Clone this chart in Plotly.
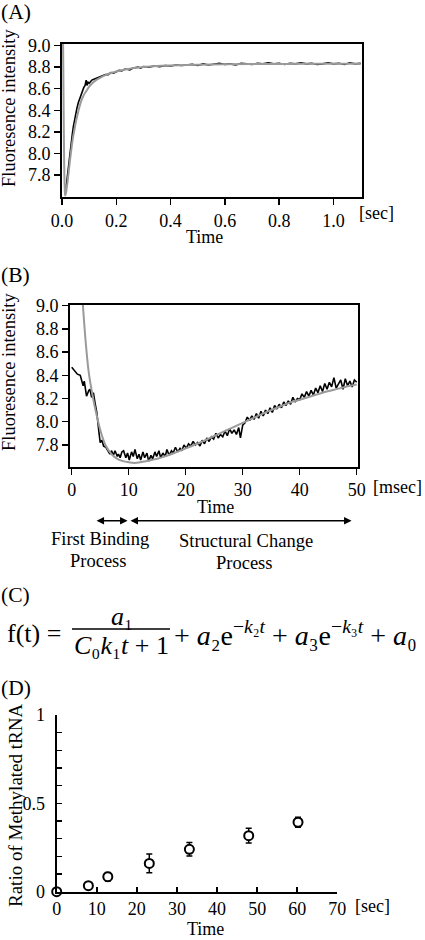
import plotly.graph_objects as go

W, H = 425, 940
FONT = "Liberation Serif"

# ---------------- Data ----------------
# Panel A: measured fluorescence (black) and fit (gray), time in sec
a_t = [0.012, 0.016, 0.02, 0.024, 0.027, 0.03, 0.034, 0.038, 0.042, 0.045, 0.05, 0.055,
       0.06, 0.065, 0.07, 0.075, 0.08, 0.085, 0.089, 0.092, 0.096, 0.10, 0.105, 0.11,
       0.12, 0.13, 0.14, 0.15, 0.16, 0.17, 0.18, 0.19, 0.20, 0.21, 0.22, 0.23, 0.24,
       0.25, 0.26, 0.27, 0.28, 0.29, 0.30, 0.32, 0.34, 0.36, 0.38, 0.40, 0.42, 0.44,
       0.46, 0.48, 0.50, 0.52, 0.54, 0.56, 0.58, 0.60, 0.62, 0.64, 0.66, 0.68, 0.70,
       0.72, 0.74, 0.76, 0.78, 0.80, 0.82, 0.84, 0.86, 0.88, 0.90, 0.92, 0.94, 0.96,
       0.98, 1.00, 1.02, 1.04, 1.06, 1.08, 1.10]
a_val = [7.62, 7.71, 7.80, 7.90, 7.98, 8.03, 8.11, 8.18, 8.25, 8.30, 8.36, 8.42,
         8.47, 8.51, 8.54, 8.58, 8.61, 8.63, 8.68, 8.63, 8.66, 8.65, 8.67, 8.68,
         8.69, 8.70, 8.71, 8.72, 8.73, 8.73, 8.75, 8.745, 8.76, 8.77, 8.765, 8.78, 8.78,
         8.775, 8.79, 8.795, 8.80, 8.79, 8.805, 8.80, 8.81, 8.805, 8.815, 8.81, 8.82, 8.815,
         8.82, 8.825, 8.815, 8.83, 8.82, 8.83, 8.835, 8.825, 8.83, 8.82, 8.835, 8.83, 8.825,
         8.835, 8.83, 8.84, 8.83, 8.835, 8.825, 8.835, 8.83, 8.84, 8.83, 8.835, 8.825, 8.83,
         8.84, 8.83, 8.835, 8.825, 8.84, 8.83, 8.835]
a_fit_t = [0.0, 0.004, 0.006, 0.008, 0.010, 0.012, 0.015, 0.02, 0.025, 0.03, 0.035, 0.04,
           0.045, 0.05, 0.06, 0.07, 0.08, 0.09, 0.10, 0.12, 0.14, 0.16, 0.18, 0.20, 0.25,
           0.30, 0.35, 0.40, 0.50, 0.60, 0.70, 0.80, 0.90, 1.00, 1.10]
a_fit_val = [9.6, 9.0, 8.4, 7.9, 7.68, 7.61, 7.64, 7.73, 7.84, 7.95, 8.05, 8.14,
             8.21, 8.28, 8.39, 8.48, 8.54, 8.58, 8.62, 8.67, 8.70, 8.725, 8.745, 8.76, 8.785,
             8.80, 8.81, 8.815, 8.822, 8.826, 8.828, 8.829, 8.83, 8.83, 8.83]

# Panel B: time in msec
b_t = [0.0, 0.5, 1.0, 1.5, 2.0, 2.2, 2.6, 3.0, 3.2, 3.5, 3.8, 4.1, 4.4, 4.8, 5.0, 5.3,
       5.6, 6.0, 6.4, 6.7, 7.0, 7.3, 7.6, 8.0, 8.2, 8.5, 8.8, 9.1, 9.5, 9.8, 10.1, 10.5,
       10.8, 11.1, 11.5, 11.8, 12.1, 12.5, 12.8, 13.2, 13.5, 13.9, 14.2, 14.6, 14.9, 15.3,
       15.6, 16.0, 16.4, 16.7, 17.1, 17.5, 17.8, 18.2, 18.6, 19.0, 19.3, 19.7, 20.1, 20.5,
       20.9, 21.3, 21.7, 22.1, 22.5, 22.9, 23.3, 23.7, 24.1, 24.5, 24.9, 25.3, 25.7, 26.1,
       26.5, 26.9, 27.3, 27.7, 28.1, 28.5, 28.9, 29.3, 29.6, 30.0, 30.4, 30.8, 31.2, 31.6,
       32.0, 32.4, 32.8, 33.2, 33.6, 34.0, 34.4, 34.8, 35.2, 35.6, 36.0, 36.4, 36.8, 37.2,
       37.6, 38.0, 38.4, 38.8, 39.2, 39.6, 40.0, 40.4, 40.8, 41.2, 41.6, 42.0, 42.4, 42.8,
       43.2, 43.6, 44.0, 44.4, 44.8, 45.2, 45.6, 46.0, 46.4, 46.8, 47.2, 47.6, 48.0, 48.4,
       48.8, 49.2, 49.6, 50.0]
b_val = [8.47, 8.44, 8.41, 8.40, 8.31, 8.35, 8.22, 8.27, 8.28, 8.21, 8.25, 8.16, 8.08, 7.90, 7.82, 7.84,
         7.79, 7.78, 7.74, 7.72, 7.75, 7.71, 7.75, 7.70, 7.72, 7.69, 7.74, 7.75, 7.69, 7.73, 7.67, 7.74,
         7.70, 7.76, 7.68, 7.72, 7.67, 7.74, 7.69, 7.73, 7.66, 7.71, 7.68, 7.74, 7.70, 7.75,
         7.69, 7.73, 7.70, 7.76, 7.71, 7.75, 7.73, 7.78, 7.74, 7.77, 7.75, 7.80, 7.77, 7.81,
         7.79, 7.83, 7.80, 7.82, 7.79, 7.84, 7.81, 7.86, 7.83, 7.87, 7.85, 7.90, 7.86, 7.89,
         7.87, 7.92, 7.88, 7.94, 7.90, 7.93, 7.89, 7.95, 7.86, 7.97, 7.99, 8.04, 8.01, 8.05,
         8.02, 8.07, 8.03, 8.09, 8.05, 8.10, 8.07, 8.12, 8.08, 8.14, 8.11, 8.15, 8.12, 8.17,
         8.14, 8.18, 8.15, 8.21, 8.17, 8.20, 8.19, 8.24, 8.21, 8.26, 8.22, 8.27, 8.23, 8.29,
         8.25, 8.31, 8.26, 8.33, 8.28, 8.34, 8.30, 8.38, 8.29, 8.33, 8.36, 8.28, 8.37, 8.31,
         8.35, 8.30, 8.36, 8.34]
b_fit_t = [1.5, 2.0, 2.5, 3.0, 3.5, 4.0, 4.5, 5.0, 5.5, 6.0, 7.0, 8.0, 9.0, 10.0, 11.0, 12.0,
           13.0, 14.0, 15.0, 16.0, 18.0, 20.0, 22.0, 24.0, 26.0, 28.0, 30.0, 32.0, 34.0, 36.0,
           38.0, 40.0, 42.0, 44.0, 46.0, 48.0, 50.0]
b_fit_val = [9.35, 8.98, 8.66, 8.42, 8.27, 8.14, 8.03, 7.93, 7.85, 7.79, 7.72, 7.68, 7.66, 7.65, 7.645, 7.65,
             7.66, 7.67, 7.68, 7.695, 7.73, 7.77, 7.81, 7.855, 7.90, 7.945, 7.99, 8.035, 8.08, 8.12,
             8.16, 8.19, 8.22, 8.25, 8.275, 8.30, 8.32]

# Panel D: ratio of methylated tRNA vs time (sec)
d_t = [0, 7.9, 12.75, 23.1, 33.1, 47.9, 60.2]
d_val = [0, 0.034, 0.085, 0.16, 0.24, 0.317, 0.393]
d_err = [0, 0.012, 0.024, 0.053, 0.038, 0.042, 0.028]

a_xticks = [0.0, 0.2, 0.4, 0.6, 0.8, 1.0]
ab_yticks = [7.8, 8.0, 8.2, 8.4, 8.6, 8.8, 9.0]
b_xticks = [0, 10, 20, 30, 40, 50]
d_xticks = [0, 10, 20, 30, 40, 50, 60, 70]
d_yticks = [0, 0.1, 0.2, 0.3, 0.4, 0.5, 0.6, 0.7, 0.8, 0.9, 1.0]
d_yticktext = ["0", "", "", "", "", "0.5", "", "", "", "", "1"]


def px(x):
    return x / W


def py(y):
    return 1 - y / H


fig = go.Figure()
BLACK = "#000000"
GRAY = "#9a9a9a"

fig.add_trace(go.Scatter(x=a_t, y=a_val, mode="lines", line=dict(color=BLACK, width=1.6),
                         xaxis="x", yaxis="y", showlegend=False))
fig.add_trace(go.Scatter(x=a_fit_t, y=a_fit_val, mode="lines", line=dict(color=GRAY, width=2, shape="spline"),
                         xaxis="x", yaxis="y", showlegend=False))
fig.add_trace(go.Scatter(x=b_t, y=b_val, mode="lines", line=dict(color=BLACK, width=1.6),
                         xaxis="x2", yaxis="y2", showlegend=False))
fig.add_trace(go.Scatter(x=b_fit_t, y=b_fit_val, mode="lines", line=dict(color=GRAY, width=2, shape="spline"),
                         xaxis="x2", yaxis="y2", showlegend=False))
fig.add_trace(go.Scatter(x=d_t, y=d_val, mode="markers",
                         marker=dict(symbol="circle", size=9, color="white", line=dict(color=BLACK, width=2)),
                         error_y=dict(type="data", array=d_err, color=BLACK, thickness=1.5, width=3),
                         cliponaxis=False, xaxis="x3", yaxis="y3", showlegend=False))

tickfont = dict(family=FONT, size=18, color=BLACK)
boxaxis = dict(showline=True, linewidth=2, linecolor=BLACK, mirror=True, ticks="outside",
               ticklen=6, tickwidth=1.5, tickcolor=BLACK, showgrid=False, zeroline=False,
               tickfont=tickfont, automargin=False)

fig.update_layout(
    template="none",
    width=W, height=H, autosize=False,
    margin=dict(l=0, r=0, t=0, b=0, pad=0),
    paper_bgcolor="white", plot_bgcolor="white",
    font=dict(family=FONT, color=BLACK),
    xaxis=dict(boxaxis, domain=[px(62), px(362)], range=[0, 1.105], anchor="y",
               tickvals=a_xticks, ticktext=["%.1f" % v for v in a_xticks]),
    yaxis=dict(boxaxis, domain=[py(197), py(44)], range=[7.597, 9.014], anchor="x",
               tickvals=ab_yticks, ticktext=["%.1f" % v for v in ab_yticks]),
    xaxis2=dict(boxaxis, domain=[px(70), px(358.3)], range=[-0.3, 50.28], anchor="y2",
                tickvals=b_xticks, ticktext=[str(v) for v in b_xticks]),
    yaxis2=dict(boxaxis, domain=[py(466.5), py(305)], range=[7.614, 9.006], anchor="x2",
                tickvals=ab_yticks, ticktext=["%.1f" % v for v in ab_yticks]),
    xaxis3=dict(domain=[px(56.7), px(337.3)], range=[0, 70], anchor="y3", showline=True,
                linewidth=2, linecolor=BLACK, ticks="inside", ticklen=5, tickwidth=1.5,
                tickcolor=BLACK, showgrid=False, zeroline=False, tickfont=tickfont,
                tickvals=d_xticks, ticktext=[str(v) for v in d_xticks], automargin=False),
    yaxis3=dict(domain=[py(891.7), py(715)], range=[0, 1], anchor="x3", showline=True,
                linewidth=2, linecolor=BLACK, ticks="inside", ticklen=5, tickwidth=1.5,
                tickcolor=BLACK, showgrid=False, zeroline=False, tickfont=tickfont,
                tickvals=d_yticks, ticktext=d_yticktext, ticklabelstandoff=6, automargin=False),
)

ann = []


def text(x, y, s, size=18, xanchor="center", angle=0, yanchor="middle"):
    ann.append(dict(x=px(x), y=py(y), xref="paper", yref="paper", text=s, showarrow=False,
                    xanchor=xanchor, yanchor=yanchor, textangle=angle, borderpad=0,
                    font=dict(family=FONT, size=size, color=BLACK)))


# panel labels
text(0, 12, "(A)", 21.5, "left")
text(0, 275, "(B)", 21.5, "left")
text(0, 595, "(C)", 21.5, "left")
text(0, 688, "(D)", 21.5, "left")

# axis titles
text(9, 108, "Fluoresence intensity", 18.5, angle=-90)
text(204, 237, "Time", 18)
text(376, 213, "[sec]", 18)
text(9, 372, "Fluoresence intensity", 18.5, angle=-90)
text(215, 507, "Time", 18)
text(423, 487, "[msec]", 18, "right")
text(15, 806, "Ratio of Methylated tRNA", 19, angle=-90)
text(205, 940, "Time", 18, yanchor="bottom")
text(372, 906, "[sec]", 18)

# process labels
text(100, 550, "First Binding", 18.5, yanchor="bottom")
text(98, 550, "Process", 18.5, yanchor="top")
text(246, 552, "Structural Change", 18.5, yanchor="bottom")
text(244, 552, "Process", 18.5, yanchor="top")

# arrows (double-headed) in panel B time units
for head, tail in [(9.8, 4.1), (49.1, 10.05)]:
    ann.append(dict(x=head, ax=tail, xref="x2", axref="x2", y=py(520.7), yref="paper",
                    ay=0, ayref="pixel", showarrow=True, arrowside="end+start", arrowhead=2,
                    arrowsize=1, arrowwidth=1.5, arrowcolor=BLACK, text="", standoff=0, startstandoff=0))

# formula (C)
MATH = "Liberation Serif"
ann.append(dict(x=px(5), y=py(633), xref="paper", yref="paper", text="f(t) =", showarrow=False,
                xanchor="left", yanchor="middle", font=dict(family=MATH, size=26, color=BLACK)))
ann.append(dict(x=px(122), y=py(616), xref="paper", yref="paper", text="<i>a</i>₁", showarrow=False,
                xanchor="center", yanchor="middle", font=dict(family=MATH, size=26, color=BLACK)))
ann.append(dict(x=px(121), y=py(645), xref="paper", yref="paper",
                text="<i>C</i>₀<i>k</i>₁<i>t</i> + 1", showarrow=False,
                xanchor="center", yanchor="middle", font=dict(family=MATH, size=26, color=BLACK)))
ann.append(dict(x=px(172), y=py(633), xref="paper", yref="paper",
                text="+ <i>a</i>₂e<sup>−<i>k</i>₂<i>t</i></sup> + <i>a</i>₃e<sup>−<i>k</i>₃<i>t</i></sup> + <i>a</i>₀",
                showarrow=False, xanchor="left", yanchor="middle",
                font=dict(family=MATH, size=28, color=BLACK)))

fig.update_layout(annotations=ann,
                  shapes=[dict(type="line", xref="paper", yref="paper", x0=px(72), x1=px(170),
                               y0=py(629), y1=py(629), line=dict(color=BLACK, width=1.5))])

fig.write_html("out.html", config={"displayModeBar": False, "staticPlot": True},
               post_script="document.body.style.margin='0';document.body.style.overflow='hidden';")
